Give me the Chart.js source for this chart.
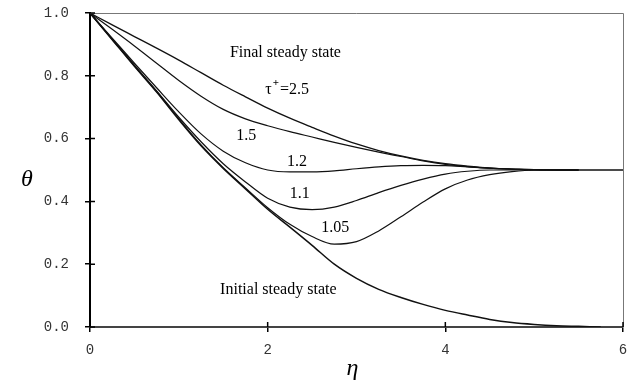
<!DOCTYPE html>
<html>
<head>
<meta charset="utf-8">
<script src="https://cdn.jsdelivr.net/npm/chart.js@4"></script>
<style>
  html, body { margin: 0; padding: 0; background: #fff; }
  #wrap { width: 628px; height: 389px; }
</style>
</head>
<body>
<div id="wrap"><canvas id="myChart"></canvas></div>
<script>
// eta positions (x) shared by all curves
const eta = [0, 0.25, 0.5, 0.75, 1, 1.25, 1.5, 1.75, 2, 2.25, 2.5, 2.75, 3,
             3.25, 3.5, 3.75, 4, 4.25, 4.5, 4.75, 5, 5.25, 5.5, 5.75, 6];

// theta values (null = curve not drawn there)
const finalState = [1, 0.962, 0.925, 0.888, 0.85, 0.81, 0.77, 0.733, 0.697, 0.665, 0.636, 0.608, 0.583,
                    0.562, 0.545, 0.531, 0.52, 0.512, 0.506, 0.503, 0.501, 0.5, 0.5, 0.5, 0.5];
const tau15 = [1, 0.948, 0.895, 0.84, 0.785, 0.735, 0.693, 0.663, 0.641, 0.622, 0.605, 0.588, 0.572,
               0.557, 0.543, 0.529, 0.518, 0.511, 0.506, 0.503, 0.501, 0.5, 0.5, null, null];
const tau12 = [1, 0.92, 0.84, 0.762, 0.685, 0.615, 0.56, 0.523, 0.5, 0.494, 0.494, 0.497, 0.504,
               0.51, 0.514, 0.515, 0.514, 0.51, 0.506, 0.503, 0.5, 0.5, 0.5, null, null];
const tau11 = [1, 0.917, 0.834, 0.752, 0.668, 0.59, 0.52, 0.462, 0.41, 0.382, 0.374, 0.382, 0.403,
               0.428, 0.451, 0.471, 0.487, 0.496, 0.5, 0.5, 0.5, 0.5, 0.5, null, null];
const tau105 = [1, 0.916, 0.832, 0.75, 0.663, 0.58, 0.507, 0.443, 0.38, 0.327, 0.288, 0.264, 0.272,
                0.306, 0.351, 0.398, 0.44, 0.468, 0.485, 0.495, 0.5, 0.5, 0.5, null, null];
const initialState = [1, 0.915, 0.83, 0.748, 0.66, 0.577, 0.505, 0.44, 0.375, 0.318, 0.26, 0.2, 0.155,
                      0.12, 0.094, 0.072, 0.053, 0.038, 0.024, 0.014, 0.008, 0.004, 0.002, 0, null];

const yTicks = [0, 0.2, 0.4, 0.6, 0.8, 1.0];
const xTicks = [0, 2, 4, 6];

// curve labels: text, eta, theta
const notes = [
  ['Final steady state', 2.2, 0.872],
  ['1.5', 1.76, 0.608],
  ['1.2', 2.33, 0.525],
  ['1.1', 2.36, 0.424],
  ['1.05', 2.76, 0.315],
  ['Initial steady state', 2.12, 0.12]
];

function pts(arr) {
  const out = [];
  for (let i = 0; i < eta.length; i++)
    if (arr[i] !== null) out.push({x: eta[i], y: arr[i]});
  return out;
}

function line(label, arr, w) {
  return {
    label: label,
    data: pts(arr),
    borderColor: '#111',
    borderWidth: w,
    pointRadius: 0,
    fill: false,
    cubicInterpolationMode: 'monotone'
  };
}

const serif = '"Liberation Serif", "Times New Roman", serif';

const decor = {
  id: 'decor',
  afterDraw(chart) {
    const c = chart.ctx;
    const xs = chart.scales.x, ys = chart.scales.y;
    const a = chart.chartArea;
    c.save();
    // frame top + right
    c.strokeStyle = '#777';
    c.lineWidth = 1;
    c.beginPath();
    c.moveTo(a.left, a.top + 0.5);
    c.lineTo(a.right + 0.5, a.top + 0.5);
    c.lineTo(a.right + 0.5, a.bottom);
    c.stroke();
    // inner half of tick marks
    c.strokeStyle = '#000';
    c.lineWidth = 1.5;
    c.beginPath();
    yTicks.forEach(v => {
      const y = ys.getPixelForValue(v);
      c.moveTo(a.left, y);
      c.lineTo(a.left + 5, y);
    });
    xTicks.forEach(v => {
      const x = xs.getPixelForValue(v);
      c.moveTo(x, a.bottom);
      c.lineTo(x, a.bottom - 5);
    });
    c.stroke();

    // curve labels
    c.fillStyle = '#000';
    c.font = '16px ' + serif;
    c.textAlign = 'center';
    c.textBaseline = 'middle';
    notes.forEach(n => {
      c.fillText(n[0], xs.getPixelForValue(n[1]), ys.getPixelForValue(n[2]));
    });
    // tau+ = 2.5
    const tx = xs.getPixelForValue(2.22), ty = ys.getPixelForValue(0.755);
    c.textAlign = 'left';
    const p1 = 'τ', p3 = '=2.5';
    c.font = '16px ' + serif;
    const w1 = c.measureText(p1).width;
    const w3 = c.measureText(p3).width;
    c.font = 'bold 11px ' + serif;
    const w2 = c.measureText('+').width;
    let x0 = tx - (w1 + w2 + 2 + w3) / 2;
    c.font = '16px ' + serif;
    c.fillText(p1, x0, ty);
    c.font = 'bold 11px ' + serif;
    c.fillText('+', x0 + w1 + 1, ty - 7);
    c.font = '16px ' + serif;
    c.fillText(p3, x0 + w1 + w2 + 2, ty);

    // axis titles
    c.font = 'italic 24px ' + serif;
    c.textAlign = 'center';
    c.fillText('θ', 27, ys.getPixelForValue(0.47));
    c.fillText('η', (a.left + a.right) / 2 - 4, 369);
    c.restore();
  }
};

const ctx = document.getElementById('myChart');
new Chart(ctx, {
  type: 'line',
  data: {
    datasets: [
      line('Final steady state / τ+=2.5', finalState, 1.3),
      line('τ+=1.5', tau15, 1.2),
      line('τ+=1.2', tau12, 1.2),
      line('τ+=1.1', tau11, 1.2),
      line('τ+=1.05', tau105, 1.2),
      line('Initial steady state', initialState, 1.5)
    ]
  },
  options: {
    responsive: true,
    maintainAspectRatio: false,
    animation: false,
    layout: { padding: { left: 0, top: 13, right: 5, bottom: 0 } },
    plugins: { legend: { display: false }, tooltip: { enabled: false } },
    scales: {
      x: {
        type: 'linear',
        min: 0,
        max: 6,
        afterBuildTicks: s => { s.ticks = xTicks.map(v => ({value: v})); },
        afterFit: s => { s.height = 62; s.paddingLeft = 0; s.paddingRight = 0; },
        grid: { drawOnChartArea: false, tickLength: 5, color: '#000', lineWidth: 1.5 },
        border: { color: '#444', width: 2 },
        ticks: {
          padding: 10,
          color: '#333',
          font: { family: '"Liberation Mono", monospace', size: 14 },
          callback: v => String(v)
        }
      },
      y: {
        type: 'linear',
        min: 0,
        max: 1,
        afterBuildTicks: s => { s.ticks = yTicks.map(v => ({value: v})); },
        afterFit: s => { s.width = 90; s.paddingTop = 0; s.paddingBottom = 0; },
        grid: { drawOnChartArea: false, tickLength: 5, color: '#000', lineWidth: 1.5 },
        border: { color: '#000', width: 2 },
        ticks: {
          padding: 16,
          color: '#333',
          font: { family: '"Liberation Mono", monospace', size: 14 },
          callback: v => v.toFixed(1)
        }
      }
    }
  },
  plugins: [decor]
});
</script>
</body>
</html>
